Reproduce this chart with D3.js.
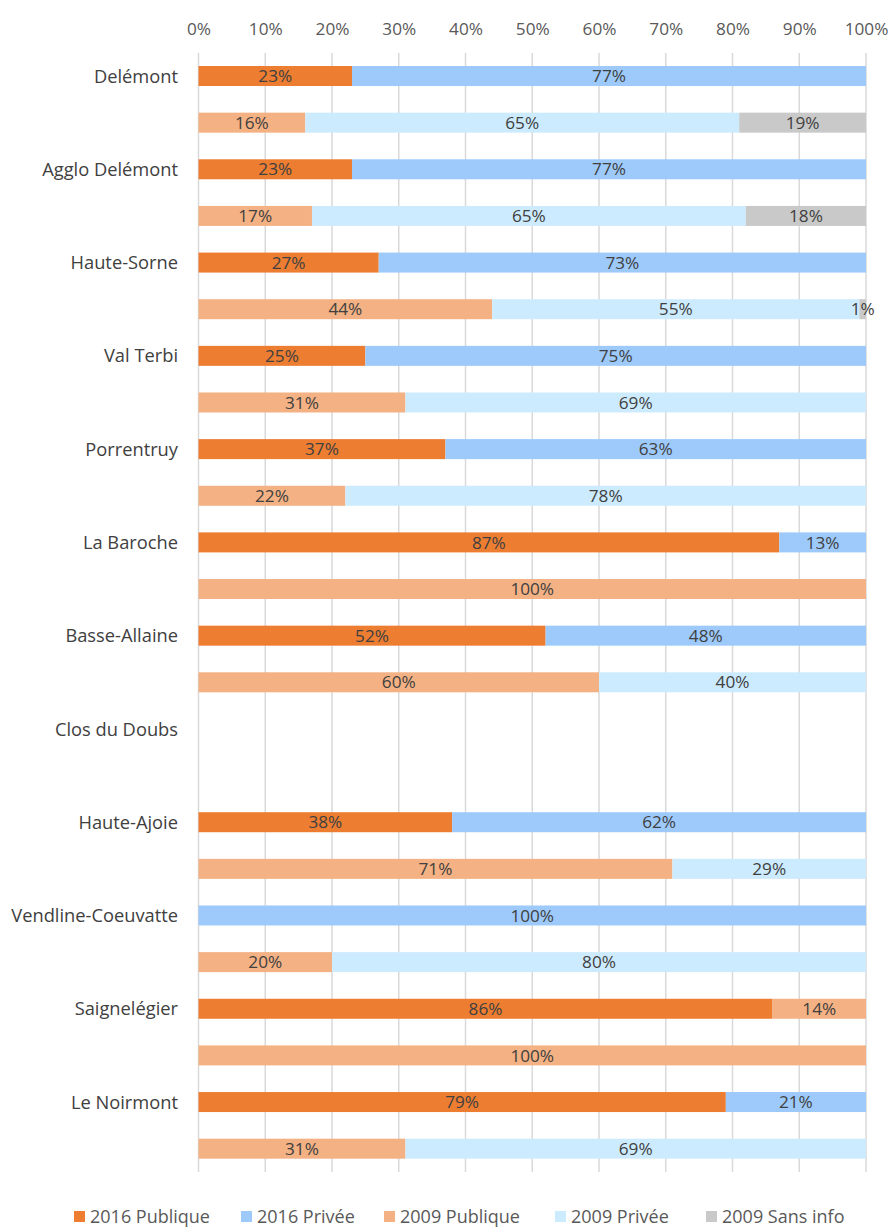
<!DOCTYPE html>
<html>
<head>
<meta charset="utf-8">
<script src="https://cdn.jsdelivr.net/npm/d3@7"></script>
<style>
  html, body { margin: 0; padding: 0; background: #fff; }
  svg { display: block; font-family: "Open Sans", sans-serif; }
</style>
</head>
<body>
<svg id="chart" width="893" height="1227"></svg>
<script>
// Communes / régions
const categories = [
  "Delémont", "Agglo Delémont", "Haute-Sorne", "Val Terbi", "Porrentruy",
  "La Baroche", "Basse-Allaine", "Clos du Doubs", "Haute-Ajoie",
  "Vendline-Coeuvatte", "Saignelégier", "Le Noirmont"
];

// Parts en % (null = pas de données)
const publique2016 = [23, 23, 27, 25, 37, 87, 52, null, 38, 0, 86, 79];
const privee2016   = [77, 77, 73, 75, 63, 13, 48, null, 62, 100, 0, 21];
// part complémentaire 2016 affichée dans la teinte « 2009 Publique »
const publiqueBis2016 = [0, 0, 0, 0, 0, 0, 0, null, 0, 0, 14, 0];
const publique2009 = [16, 17, 44, 31, 22, 100, 60, null, 71, 20, 100, 31];
const privee2009   = [65, 65, 55, 69, 78, 0, 40, null, 29, 80, 0, 69];
const sansInfo2009 = [19, 18, 1, 0, 0, 0, 0, null, 0, 0, 0, 0];

const tickValues = [0, 10, 20, 30, 40, 50, 60, 70, 80, 90, 100];

const legendLabels = ["2016 Publique", "2016 Privée", "2009 Publique", "2009 Privée", "2009 Sans info"];
const colors = {
  "2016 Publique": "#ED7D31",
  "2016 Privée": "#9DCAFB",
  "2009 Publique": "#F4B183",
  "2009 Privée": "#CDEBFE",
  "2009 Sans info": "#C9C9C9"
};

// Lignes : pour chaque catégorie, une barre 2016 puis une barre 2009
const rows = [];
categories.forEach((c, i) => {
  rows.push({ id: c + "|2016", cat: c, year: 2016, segs: [
    ["2016 Publique", publique2016[i]],
    ["2016 Privée", privee2016[i]],
    ["2009 Publique", publiqueBis2016[i]]
  ]});
  rows.push({ id: c + "|2009", cat: c, year: 2009, segs: [
    ["2009 Publique", publique2009[i]],
    ["2009 Privée", privee2009[i]],
    ["2009 Sans info", sansInfo2009[i]]
  ]});
});

const svg = d3.select("#chart");
const x = d3.scaleLinear().domain([0, 100]).range([198.5, 866]);
const y = d3.scaleBand().domain(rows.map(r => r.id)).range([52.7, 1172]).padding(0);
const barH = 20;

// Grille verticale
svg.append("g").selectAll("line").data(tickValues).join("line")
  .attr("x1", d => x(d)).attr("x2", d => x(d))
  .attr("y1", 53).attr("y2", 1172)
  .attr("stroke", "#D9D9D9").attr("stroke-width", 1.5);

// Axe du haut
const axis = svg.append("g").attr("transform", "translate(0,35)")
  .call(d3.axisTop(x).tickValues(tickValues).tickFormat(d => d + "%").tickSize(0).tickPadding(0));
axis.select(".domain").remove();
axis.selectAll("text").attr("font-size", 17.2).attr("fill", "#595959")
  .attr("font-family", "'Open Sans', sans-serif");

// Segments empilés
const segData = [];
rows.forEach(r => {
  let acc = 0;
  r.segs.forEach(([key, v]) => {
    if (v == null) return;
    segData.push({ row: r, key, v, x0: acc, x1: acc + v });
    acc += v;
  });
});
const drawn = segData.filter(d => d.v > 0);

const cy = r => y(r.id) + y.bandwidth() / 2;

svg.append("g").selectAll("rect").data(drawn).join("rect")
  .attr("x", d => x(d.x0))
  .attr("width", d => x(d.x1) - x(d.x0))
  .attr("y", d => cy(d.row) - barH / 2)
  .attr("height", barH)
  .attr("fill", d => colors[d.key]);

// Étiquettes de valeur
svg.append("g").selectAll("text").data(drawn).join("text")
  .attr("x", d => (x(d.x0) + x(d.x1)) / 2)
  .attr("y", d => cy(d.row))
  .attr("dy", "0.36em")
  .attr("text-anchor", "middle")
  .attr("font-size", 17.2)
  .attr("fill", "#404040")
  .text(d => d.v + "%");

// Noms des catégories
svg.append("g").selectAll("text").data(rows.filter(r => r.year === 2016)).join("text")
  .attr("x", 178)
  .attr("y", d => cy(d))
  .attr("dy", "0.36em")
  .attr("text-anchor", "end")
  .attr("font-size", 18.3)
  .attr("fill", "#404040")
  .text(d => d.cat);

// Légende
const legendX = [74, 241, 384, 555, 706];
const leg = svg.append("g").selectAll("g").data(legendLabels).join("g")
  .attr("transform", (d, i) => `translate(${legendX[i]},1217)`);
leg.append("rect").attr("x", 0).attr("y", -6).attr("width", 11).attr("height", 11)
  .attr("fill", d => colors[d]);
leg.append("text").attr("x", 16).attr("dy", "0.36em")
  .attr("font-size", 18).attr("fill", "#595959").text(d => d);
</script>
</body>
</html>
